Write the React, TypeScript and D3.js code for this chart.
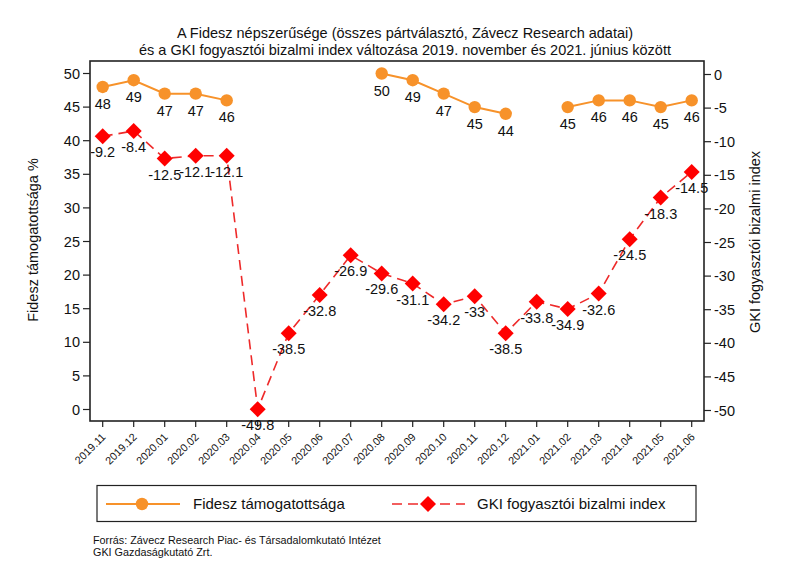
import React from "react";
import * as d3 from "d3";

const months = ["2019.11","2019.12","2020.01","2020.02","2020.03","2020.04","2020.05","2020.06","2020.07","2020.08","2020.09","2020.10","2020.11","2020.12","2021.01","2021.02","2021.03","2021.04","2021.05","2021.06"];
const fidesz: (number | null)[] = [48,49,47,47,46,null,null,null,null,50,49,47,45,44,null,45,46,46,45,46];
const gki: number[] = [-9.2,-8.4,-12.5,-12.1,-12.1,-49.8,-38.5,-32.8,-26.9,-29.6,-31.1,-34.2,-33,-38.5,-33.8,-34.9,-32.6,-24.5,-18.3,-14.5];
const leftTicks = [0,5,10,15,20,25,30,35,40,45,50];
const rightTicks = [0,-5,-10,-15,-20,-25,-30,-35,-40,-45,-50];
const titleLines = [
  "A Fidesz népszerűsége (összes pártválasztó, Závecz Research adatai)",
  "és a GKI fogyasztói bizalmi index változása 2019. november és 2021. június között",
];
const seriesNames = ["Fidesz támogatottsága", "GKI fogyasztói bizalmi index"];
const sourceLines = ["Forrás: Závecz Research Piac- és Társadalomkutató Intézet", "GKI Gazdaságkutató Zrt."];
const leftTitle = "Fidesz támogatottsága %";
const rightTitle = "GKI fogyasztói bizalmi index";

const FONT = "'Liberation Sans', Arial, Helvetica, sans-serif";
const ORANGE = "#F7922A";
const RED = "#FF0000";
const RED_LINE = "#EE2A2A";

export default function App() {
  const W = 800, H = 582;
  const box = { l: 90, r: 704, t: 61, b: 421 };
  const x = d3.scalePoint<string>().domain(months).range([102.7, 691.7]);
  const yL = d3.scaleLinear().domain([0, 50]).range([409.5, 73.5]);
  const yR = d3.scaleLinear().domain([-50, 0]).range([410.5, 74.5]);

  const fLine = d3.line<number | null>()
    .defined((d) => d !== null)
    .x((_, i) => x(months[i])!)
    .y((d) => yL(d as number));
  const gLine = d3.line<number>()
    .x((_, i) => x(months[i])!)
    .y((d) => yR(d));

  const diamond = (cx: number, cy: number, r: number) =>
    `M${cx},${cy - r}L${cx + r},${cy}L${cx},${cy + r}L${cx - r},${cy}Z`;

  return (
    <svg width={W} height={H} style={{ position: "absolute", left: 0, top: 0, background: "#fff" }} fontFamily={FONT}>
      <rect x={0} y={0} width={W} height={H} fill="#fff" />
      {titleLines.map((t, i) => (
        <text key={i} x={405} y={38 + i * 16.5} textAnchor="middle" fontSize={14.5} fill="#111">{t}</text>
      ))}
      <rect x={box.l} y={box.t} width={box.r - box.l} height={box.b - box.t} fill="none" stroke="#222" strokeWidth={1.6} />
      {leftTicks.map((t) => (
        <g key={"l" + t}>
          <line x1={box.l - 7} x2={box.l} y1={yL(t)} y2={yL(t)} stroke="#222" strokeWidth={1.2} />
          <text x={box.l - 10} y={yL(t)} dy="0.35em" textAnchor="end" fontSize={14.5} fill="#111">{t}</text>
        </g>
      ))}
      {rightTicks.map((t) => (
        <g key={"r" + t}>
          <line x1={box.r} x2={box.r + 7} y1={yR(t)} y2={yR(t)} stroke="#222" strokeWidth={1.2} />
          <text x={box.r + 10} y={yR(t)} dy="0.35em" textAnchor="start" fontSize={14.5} fill="#111">{t}</text>
        </g>
      ))}
      {months.map((m) => (
        <g key={m}>
          <line x1={x(m)!} x2={x(m)!} y1={box.b} y2={box.b + 6} stroke="#222" strokeWidth={1.2} />
          <text transform={`translate(${x(m)! + 1},${box.b + 14}) rotate(-45)`} textAnchor="end" dy="0.35em" fontSize={10.8} fill="#111">{m}</text>
        </g>
      ))}
      <text transform={`translate(38,240) rotate(-90)`} textAnchor="middle" fontSize={14.5} fill="#111">{leftTitle}</text>
      <text transform={`translate(760,242) rotate(-90)`} textAnchor="middle" fontSize={14.5} fill="#111">{rightTitle}</text>

      <path d={fLine(fidesz) || ""} fill="none" stroke={ORANGE} strokeWidth={2} />
      <path d={gLine(gki) || ""} fill="none" stroke={RED_LINE} strokeWidth={1.6} strokeDasharray="10,6" />
      {fidesz.map((v, i) => v === null ? null : (
        <g key={"f" + i}>
          <circle cx={x(months[i])!} cy={yL(v)} r={6.2} fill={ORANGE} />
          <text x={x(months[i])!} y={yL(v) + 17} dy="0.35em" textAnchor="middle" fontSize={14.5} fill="#111">{v}</text>
        </g>
      ))}
      {gki.map((v, i) => (
        <g key={"g" + i}>
          <path d={diamond(x(months[i])!, yR(v), 8)} fill={RED} />
          <text x={x(months[i])!} y={yR(v) + 16} dy="0.35em" textAnchor="middle" fontSize={14.5} fill="#111">{v}</text>
        </g>
      ))}

      <rect x={97} y={485.5} width={599} height={36} fill="none" stroke="#222" strokeWidth={1.2} />
      <line x1={106} x2={180} y1={504} y2={504} stroke={ORANGE} strokeWidth={2} />
      <circle cx={142} cy={504} r={6.2} fill={ORANGE} />
      <text x={193} y={504} dy="0.35em" fontSize={15} fill="#111">{seriesNames[0]}</text>
      <line x1={392} x2={465} y1={504} y2={504} stroke={RED_LINE} strokeWidth={1.6} strokeDasharray="10,6" />
      <path d={diamond(428, 504, 8)} fill={RED} />
      <text x={477} y={504} dy="0.35em" fontSize={15} fill="#111">{seriesNames[1]}</text>

      {sourceLines.map((s, i) => (
        <text key={s} x={93} y={544 + i * 12} fontSize={10.8} fill="#111">{s}</text>
      ))}
    </svg>
  );
}
